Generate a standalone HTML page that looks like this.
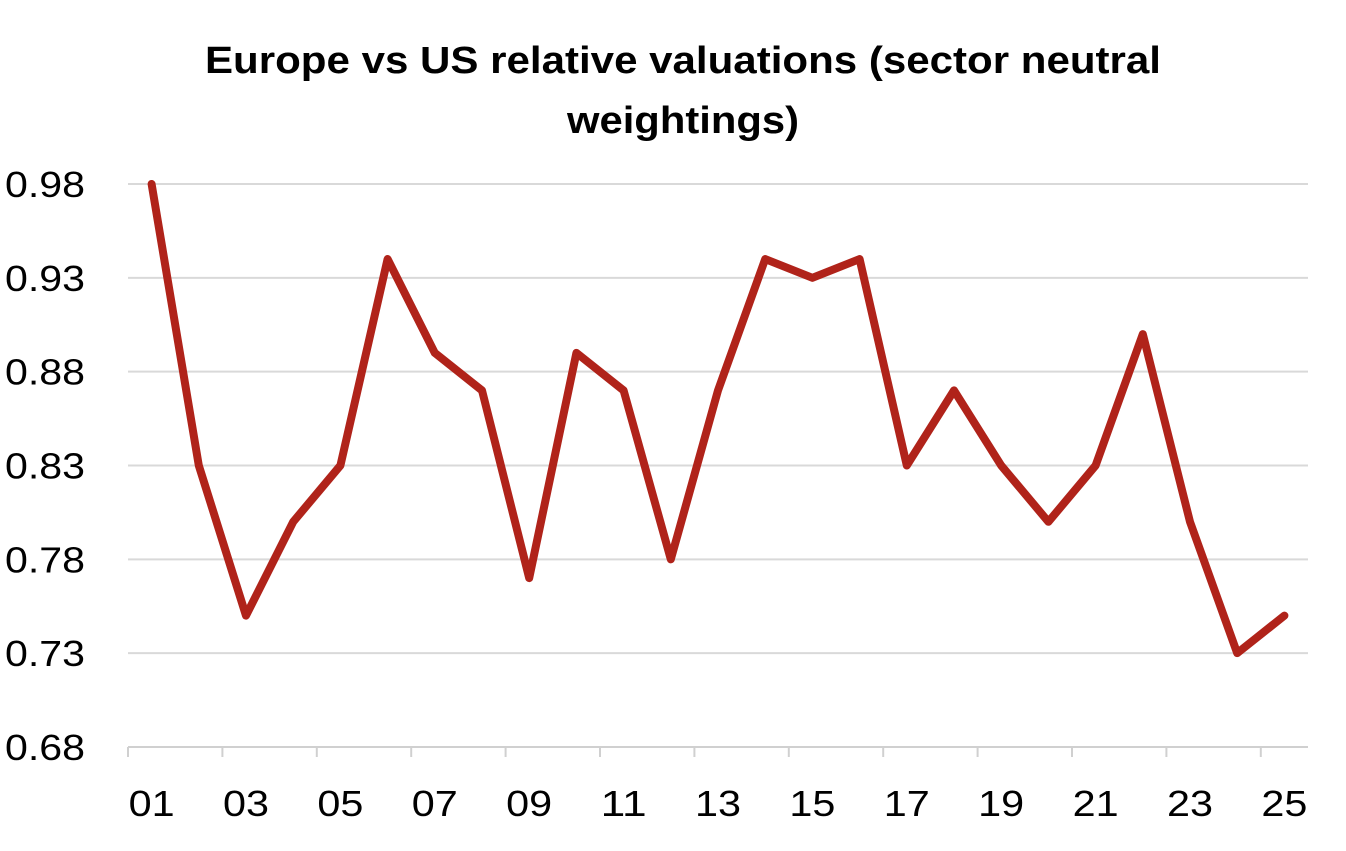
<!DOCTYPE html>
<html><head><meta charset="utf-8"><style>
html,body{margin:0;padding:0;background:#fff;}
svg text{font-family:"Liberation Sans",sans-serif;fill:#000;}
</style></head><body>
<svg width="1346" height="846" viewBox="0 0 1346 846">
<text x="683" y="73" text-anchor="middle" font-size="38" font-weight="bold" textLength="956" lengthAdjust="spacingAndGlyphs">Europe vs US relative valuations (sector neutral</text>
<text x="683" y="133" text-anchor="middle" font-size="38" font-weight="bold" textLength="232" lengthAdjust="spacingAndGlyphs">weightings)</text>
<g id="grid"></g>
<g id="ylabels"></g>
<g id="xaxis"></g>
<g id="series"></g>
</svg>
<script>
const categories=["01","02","03","04","05","06","07","08","09","10","11","12","13","14","15","16","17","18","19","20","21","22","23","24","25"];
const values=[0.98,0.83,0.75,0.80,0.83,0.94,0.89,0.87,0.77,0.89,0.87,0.78,0.87,0.94,0.93,0.94,0.83,0.87,0.83,0.80,0.83,0.90,0.80,0.73,0.75];
const yTicks=[0.68,0.73,0.78,0.83,0.88,0.93,0.98];
const NS="http://www.w3.org/2000/svg";
const x0=128,x1=1308,yTop=184,yBot=747,vMin=0.68,vMax=0.98;
const bw=(x1-x0)/categories.length;
function xs(i){return x0+bw*(i+0.5);}
function ys(v){return yBot-(v-vMin)/(vMax-vMin)*(yBot-yTop);}
function mk(tag,attrs,parent){const e=document.createElementNS(NS,tag);for(const k in attrs)e.setAttribute(k,attrs[k]);parent.appendChild(e);return e;}
const grid=document.getElementById('grid'),yl=document.getElementById('ylabels'),xa=document.getElementById('xaxis'),ser=document.getElementById('series');
yTicks.forEach(t=>{
  const y=ys(t);
  const l=mk('line',{x1:x0,x2:x1,y1:y,y2:y,stroke:t===vMin?'#d0d0d0':'#d9d9d9','stroke-width':2},grid);
  
  
  const tx=mk('text',{x:5,y:y+13,'font-size':36,textLength:80,lengthAdjust:'spacingAndGlyphs'},yl);
  tx.textContent=t.toFixed(2);
  
  
});
for(let i=0;i<=categories.length;i+=2){
  const x=x0+bw*i;
  const tk=mk('line',{x1:x,x2:x,y1:yBot,y2:yBot+10,stroke:'#d0d0d0','stroke-width':2},xa);
  
  
}
categories.forEach((c,i)=>{
  if(i%2!==0)return;
  const tx=mk('text',{x:xs(i),y:816,'font-size':36,'text-anchor':'middle',textLength:46,lengthAdjust:'spacingAndGlyphs'},xa);
  tx.textContent=c;
  
  
});
const pts=values.map((v,i)=>xs(i)+','+ys(v)).join(' ');
const pl=mk('polyline',{points:pts,fill:'none',stroke:'#b0231a','stroke-width':8,'stroke-linejoin':'round','stroke-linecap':'round'},ser);


</script>
</body></html>
